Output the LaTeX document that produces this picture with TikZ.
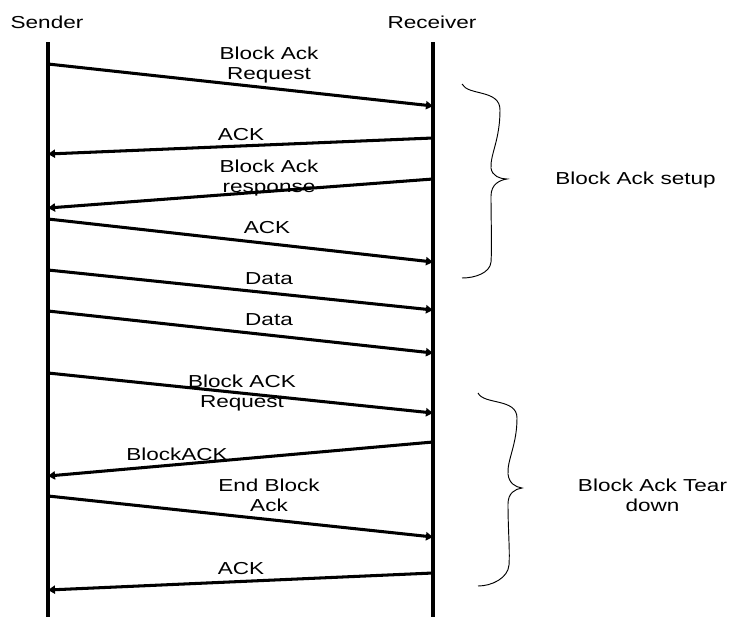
\documentclass[tikz,border=0pt]{standalone}
\usepackage{fontspec}
\setmainfont{Liberation Sans}
\usetikzlibrary{arrows.meta}

\begin{document}
\begin{tikzpicture}[x=0.03cm, y=-0.03cm,
  life/.style={line width=2.6pt},
  msg/.style={line width=2.6pt, -{Triangle[length=6pt,width=7pt]}},
  lbl/.style={anchor=north, inner sep=0pt, align=center, xscale=1.3, transform shape, font=\fontsize{14.8pt}{17pt}\selectfont},
  brc/.style={line width=0.8pt}]
\useasboundingbox (0,0) rectangle (733,617);

\node[lbl] (snd) at (47,16) {Sender};
\node[lbl] (rcv) at (432,16) {Receiver};

\coordinate (stop) at (48,42);
\coordinate (sbot) at (48,617);
\coordinate (rtop) at (433,42);
\coordinate (rbot) at (433,617);
\draw[life] (stop) -- (sbot);
\draw[life] (rtop) -- (rbot);

\coordinate (s1) at (48,64);   \coordinate (r1) at (433,106);
\coordinate (r2) at (433,138); \coordinate (s2) at (48,154);
\coordinate (r3) at (433,179); \coordinate (s3) at (48,208);
\coordinate (s4) at (48,219);  \coordinate (r4) at (433,262);
\coordinate (s5) at (48,270);  \coordinate (r5) at (433,310);
\coordinate (s6) at (48,311);  \coordinate (r6) at (433,353);
\coordinate (s7) at (48,373);  \coordinate (r7) at (433,413);
\coordinate (r8) at (433,442); \coordinate (s8) at (48,476);
\coordinate (s9) at (48,496);  \coordinate (r9) at (433,537);
\coordinate (r10) at (433,573); \coordinate (s10) at (48,590);

\draw[msg] (s1) -- (r1);
\draw[msg] (r2) -- (s2);
\draw[msg] (r3) -- (s3);
\draw[msg] (s4) -- (r4);
\draw[msg] (s5) -- (r5);
\draw[msg] (s6) -- (r6);
\draw[msg] (s7) -- (r7);
\draw[msg] (r8) -- (s8);
\draw[msg] (s9) -- (r9);
\draw[msg] (r10) -- (s10);

\node[lbl] (l1) at (269,46.5) {Block Ack\\Request};
\node[lbl] (l2) at (241,128.5) {ACK};
\node[lbl] (l3) at (269,160) {Block Ack\\response};
\node[lbl] (l4) at (267,221) {ACK};
\node[lbl] (l5) at (269,272.5) {Data};
\node[lbl] (l6) at (269,313.5) {Data};
\node[lbl] (l7) at (242,375) {Block ACK\\Request};
\node[lbl] (l8) at (177,447.5) {BlockACK};
\node[lbl] (l9) at (269,478.5) {End Block\\Ack};
\node[lbl] (l10) at (241,562) {ACK};

% braces
\draw[brc] (462,84) .. controls (468,96) and (500,89) .. (500,110)
  .. controls (500,140) and (490,155) .. (491,168)
  .. controls (492,176) and (500,179) .. (507,179)
  .. controls (500,180) and (491,184) .. (491,196)
  .. controls (491,222) and (492,246) .. (491,262)
  .. controls (490,273) and (475,278) .. (462,278);
\coordinate (b1) at (507,179);
\node[lbl] (setup) at (635.5,172) {Block Ack setup};

\draw[brc] (478,393) .. controls (484,405) and (517,398) .. (517,418)
  .. controls (517,445) and (507,460) .. (508,474)
  .. controls (509,483) and (515,487) .. (522,488)
  .. controls (515,489) and (508,493) .. (508,504)
  .. controls (508,530) and (510,550) .. (509,565)
  .. controls (508,578) and (492,586) .. (478,586);
\coordinate (b2) at (522,488);
\node[lbl] (tear) at (652.5,478.5) {Block Ack Tear\\down};

\end{tikzpicture}
\end{document}
